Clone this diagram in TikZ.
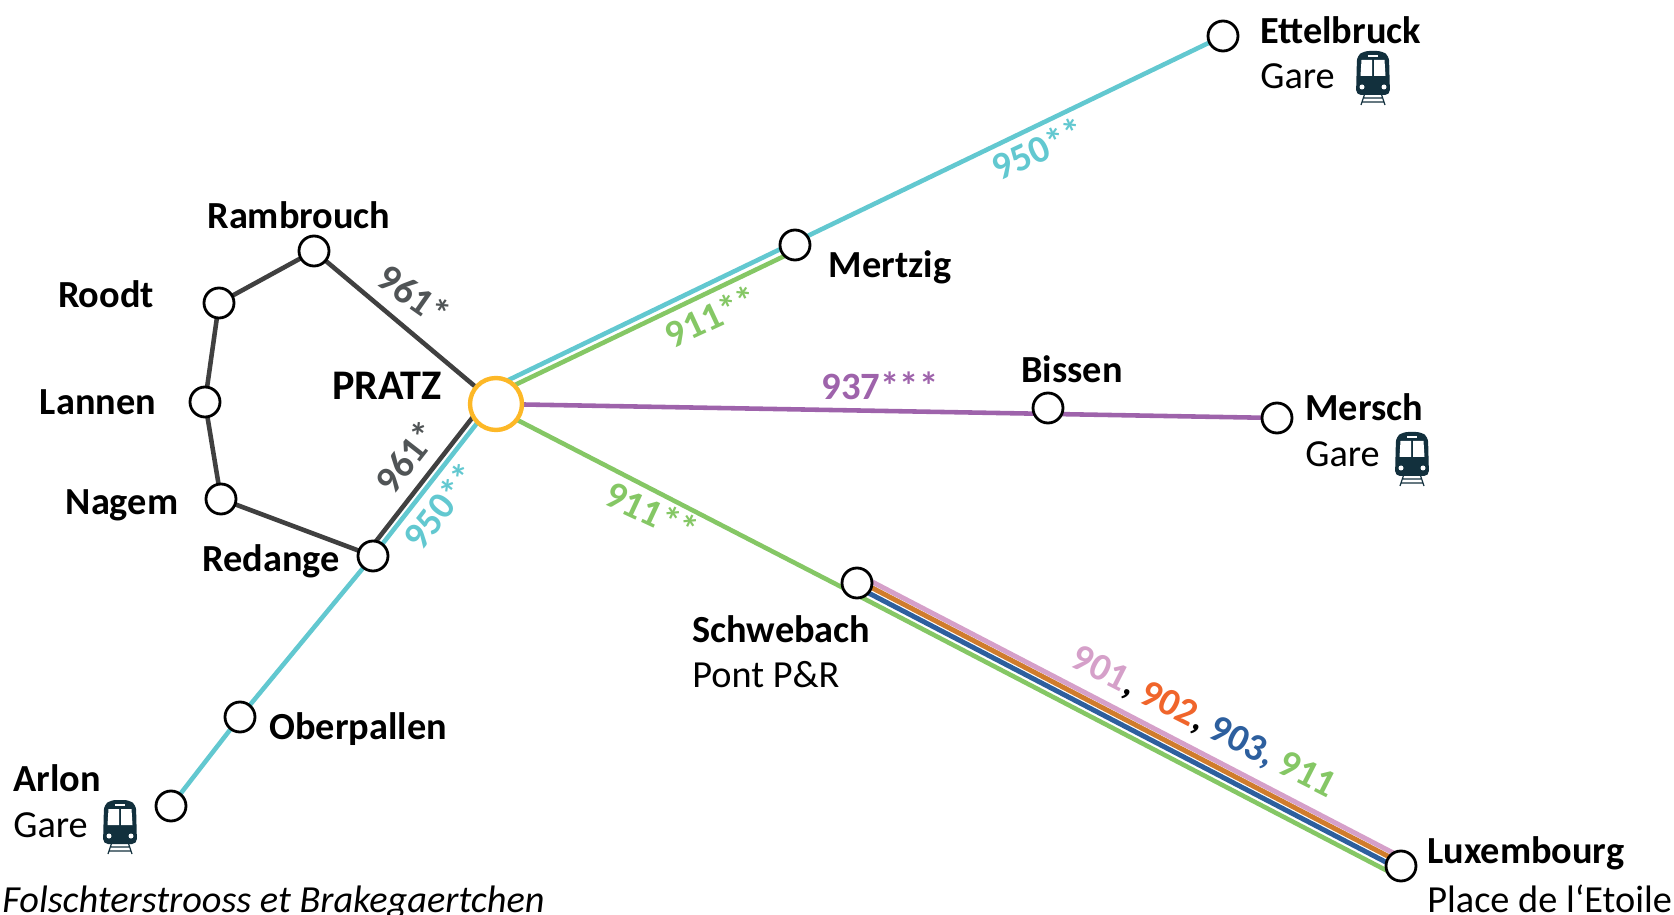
\documentclass[tikz,border=0pt]{standalone}
\usepackage{fontspec}
\setmainfont{Carlito}
\usetikzlibrary{backgrounds}
\definecolor{lineteal}{HTML}{62C8D0}
\definecolor{linegreen}{HTML}{85C765}
\definecolor{linepurple}{HTML}{9E63AB}
\definecolor{linegrey}{HTML}{404040}
\definecolor{numgrey}{HTML}{505456}
\definecolor{linepink}{HTML}{D5A0C9}
\definecolor{lineorange}{HTML}{D07C2C}
\definecolor{textorange}{HTML}{F0652B}
\definecolor{lineblue}{HTML}{2D5F9E}
\definecolor{ringorange}{HTML}{FDB827}
\definecolor{traindark}{HTML}{12303D}
\tikzset{
	stop/.style={circle, draw=black, fill=white, line width=1.6pt, minimum size=0.6cm, inner sep=0},
	hub/.style={circle, draw=ringorange, fill=white, line width=2.5pt, minimum size=1.04cm, inner sep=0},
	route/.style={line width=2.6pt},
	bundle/.style={line width=2.8pt},
	stopname/.style={font=\fontsize{21.8}{24}\selectfont\bfseries, inner sep=0},
	stopsub/.style={font=\fontsize{21.8}{24}\selectfont, inner sep=0},
	routenum/.style={font=\fontsize{22}{24}\selectfont\bfseries, inner sep=0}
}
\def\trainicon(#1,#2){
	\begin{scope}[shift={(#1,#2)}]
		\draw[traindark, line width=0.7pt] (-8,15) -- (-12,27) (8,15) -- (12,27) (-10,20) -- (10,20) (-11,24) -- (11,24);
		\fill[traindark, rounded corners=0.1cm] (-16,-22) -- (-9,-27) -- (9,-27) -- (16,-22) -- (17,17) -- (-17,17) -- cycle;
		\fill[white] (-11.5,-18) -- (-1,-18) -- (-1,-2) -- (-12.5,-2) -- cycle;
		\fill[white] (1,-18) -- (11.5,-18) -- (12.5,-2) -- (1,-2) -- cycle;
		\fill[white] (-5,-23) rectangle (5,-21);
		\fill[white] (-11,9) circle (2.5);
		\fill[white] (11,9) circle (2.5);
	\end{scope}
}

\begin{document}
\begin{tikzpicture}[x=0.02cm, y=-0.02cm]
		\useasboundingbox (0, 0) rectangle (1674, 915);
		%%%%% STOPS %%%%%
		\node[hub] (pratz) at (496, 404) {};
		\node[stop] (ettelbruck) at (1223, 36) {};
		\node[stop] (mertzig) at (795, 245) {};
		\node[stop] (bissen) at (1048, 408) {};
		\node[stop] (mersch) at (1277, 418) {};
		\node[stop] (schwebach) at (857, 583) {};
		\node[stop] (luxembourg) at (1401, 866) {};
		\node[stop] (redange) at (373, 556) {};
		\node[stop] (oberpallen) at (240, 717) {};
		\node[stop] (arlon) at (171, 806) {};
		\node[stop] (rambrouch) at (314, 251) {};
		\node[stop] (roodt) at (219, 303) {};
		\node[stop] (lannen) at (205, 402) {};
		\node[stop] (nagem) at (221, 499) {};
		
		%%%%% LINES %%%%%
		\begin{scope}[on background layer]
			\draw[route, linegrey] (pratz.center) -- (rambrouch.center) -- (roodt.center) -- (lannen.center) -- (nagem.center) -- (redange.center);
			\draw[route, linegrey] ([xshift=-0.17cm]redange.center) -- ([xshift=-0.26cm]pratz.center);
			\draw[route, lineteal] (arlon.center) -- (oberpallen.center) -- (redange.center) -- ([xshift=-0.08cm]pratz.center);
			\draw[route, lineteal] ([yshift=0.36cm]pratz.center) -- (ettelbruck.center);
			\draw[route, linegreen] ([yshift=0.2cm]pratz.center) -- ([yshift=-0.12cm]mertzig.center);
			\draw[route, linepurple] (pratz.center) -- (mersch.center);
			\draw[route, linegreen] ([yshift=-0.1cm]pratz.center) -- ([yshift=-0.24cm]schwebach.center) -- ([yshift=-0.24cm]luxembourg.center);
			\draw[bundle, lineblue] ([yshift=-0.08cm]schwebach.center) -- ([yshift=-0.08cm]luxembourg.center);
			\draw[bundle, lineorange] ([yshift=0.06cm]schwebach.center) -- ([yshift=0.06cm]luxembourg.center);
			\draw[bundle, linepink] ([yshift=0.18cm]schwebach.center) -- ([yshift=0.18cm]luxembourg.center);
		\end{scope}
		
		%%%%% NAMES %%%%%
		\node[stopname, font=\fontsize{24}{26}\selectfont\bfseries] (lblpratz) at (387, 386) {PRATZ};
		\node[stopname] (lblrambrouch) at (299, 215) {Rambrouch};
		\node[stopname] (lblroodt) at (106, 294) {Roodt};
		\node[stopname] (lbllannen) at (98, 402) {Lannen};
		\node[stopname] (lblnagem) at (122, 505) {Nagem};
		\node[stopname] (lblredange) at (271, 561) {Redange};
		\node[stopname] (lblmertzig) at (890, 267) {Mertzig};
		\node[stopname] (lblbissen) at (1072, 369) {Bissen};
		\node[stopname, anchor=west] (lbloberpallen) at (269, 729) {Oberpallen};
		\node[stopname, anchor=west] (lblettelbruck) at (1260, 30) {Ettelbruck};
		\node[stopsub, anchor=west] (subettelbruck) at (1260, 76) {Gare};
		\node[stopname, anchor=west] (lblmersch) at (1305, 407) {Mersch};
		\node[stopsub, anchor=west] (submersch) at (1305, 454) {Gare};
		\node[stopname, anchor=west] (lblschwebach) at (692, 629) {Schwebach};
		\node[stopsub, anchor=west] (subschwebach) at (692, 675) {Pont P\&R};
		\node[stopname, anchor=west] (lblarlon) at (13, 778) {Arlon};
		\node[stopsub, anchor=west] (subarlon) at (13, 825) {Gare};
		\node[stopname, anchor=west] (lblluxembourg) at (1427, 853) {Luxembourg};
		\node[stopsub, anchor=west] (subluxembourg) at (1427, 899) {Place de l‘Etoile};
		\node[stopsub, anchor=west] (lblfolscht) at (2, 902) {\itshape Folschterstrooss et Brakegaertchen};
		
		%%%%% NUMBERS %%%%%
		\node[routenum, numgrey, rotate=-35] (num961a) at (414, 295) {961*};
		\node[routenum, numgrey, rotate=52] (num961b) at (407, 457) {961*};
		\node[routenum, lineteal, rotate=52] (num950a) at (441, 506) {950**};
		\node[routenum, lineteal, rotate=25] (num950b) at (1038, 149) {950**};
		\node[routenum, linegreen, rotate=25] (num911a) at (711, 316) {911**};
		\node[routenum, linegreen, rotate=-25] (num911b) at (652, 512) {911**};
		\node[routenum, linepurple] (num937) at (880, 386) {937***};
		\node[routenum, rotate=-27] (numbundle) at (1203, 723) {\textcolor{linepink}{901}, \textcolor{textorange}{902}, \textcolor{lineblue}{903, }\textcolor{linegreen}{911}};
		
		%%%%% TRAINS %%%%%
		\trainicon(1373,78)
		\trainicon(1412,459)
		\trainicon(120,827)
	\end{tikzpicture}
\end{document}
